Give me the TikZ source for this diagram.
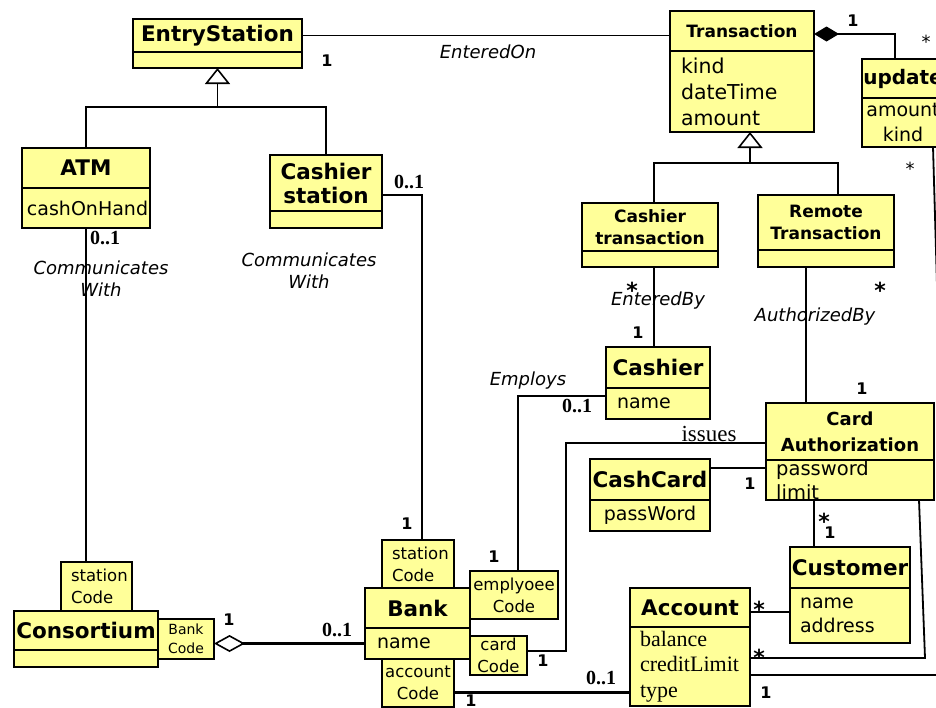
\documentclass[tikz,border=0pt]{standalone}
\usepackage{fontspec}
\setmainfont{DejaVu Sans}
\newfontfamily\timesfont{Liberation Serif}
\usetikzlibrary{arrows.meta,calc,positioning}
\definecolor{umlyellow}{RGB}{255,255,153}
\newcommand{\clsfont}{\fontsize{21.5}{24}\selectfont\bfseries}
\newcommand{\subclsfont}{\fontsize{17}{22}\selectfont\bfseries}
\newcommand{\attrfont}{\fontsize{19}{24.5}\selectfont}
\newcommand{\qualfont}{\fontsize{16.5}{22}\selectfont}
\newcommand{\rolefont}{\fontsize{18}{22}\selectfont\itshape}
\newcommand{\multfont}{\fontsize{16}{16}\selectfont\bfseries}
\newcommand{\rangefont}{\timesfont\bfseries\fontsize{20}{20}\selectfont}
\tikzset{
  cname/.style={draw=black,fill=umlyellow,line width=2pt,inner sep=0pt,
    outer sep=0pt,anchor=north west,align=center,font=\clsfont},
  cattr/.style={draw=black,fill=umlyellow,line width=2pt,inner xsep=10pt,
    inner ysep=0pt,outer sep=0pt,anchor=north west,align=left,font=\attrfont},
  qualbox/.style={draw=black,fill=umlyellow,line width=2pt,inner sep=0pt,
    outer sep=0pt,anchor=north west,align=center,font=\qualfont},
  link/.style={line width=1.8pt},
  heavylink/.style={line width=3pt},
  gen/.style={link,-{Triangle[open,length=16pt,width=25pt,line width=1.6pt]}},
  mult/.style={font=\multfont,inner sep=0pt},
  rangelbl/.style={font=\rangefont,inner sep=0pt},
  starmark/.style={font=\fontsize{22}{22}\selectfont\bfseries,inner sep=0pt},
  thinstar/.style={font=\fontsize{18}{18}\selectfont,inner sep=0pt},
  role/.style={font=\rolefont,align=center,inner sep=0pt}
}

\begin{document}
\begin{tikzpicture}[x=1pt,y=-1pt]
  \useasboundingbox (0,0) rectangle (936,707);
  \clip (0,0) rectangle (936,707);
  \fill[white] (0,0) rectangle (936,707);

  % classes
  \node[cname,minimum width=169pt,minimum height=33pt] (entry) at (133,19) {EntryStation};
  \node[cname,minimum width=169pt,minimum height=16pt] (entry-a) at (entry.south west) {};
  \node[cname,minimum width=128pt,minimum height=40pt] (atm) at (22,148) {ATM};
  \node[cattr,inner xsep=5pt,text width=118pt,minimum height=40pt] (atm-a) at (atm.south west) {cashOnHand};
  \node[cname,minimum width=112pt,minimum height=56pt] (cstation) at (270,155) {Cashier\\station};
  \node[cname,minimum width=112pt,minimum height=17pt] (cstation-a) at (cstation.south west) {};

  \node[cname,font=\subclsfont,minimum width=144pt,minimum height=40pt] (trans) at (670,11) {Transaction};
  \node[cattr,font=\fontsize{20.5}{26}\selectfont,inner xsep=11pt,text width=122pt,minimum height=81pt]
    (trans-a) at (trans.south west) {kind\\dateTime\\amount};
  \node[cname,font=\fontsize{20}{24}\selectfont\bfseries,minimum width=82pt,minimum height=39pt] (update) at (862,59) {update};
  \node[cname,font=\attrfont,minimum width=82pt,minimum height=49pt] (update-a) at (update.south west) {amount\\kind};
  \node[cname,font=\subclsfont,minimum width=136pt,minimum height=48pt] (ctrans) at (582,203) {Cashier\\transaction};
  \node[cname,minimum width=136pt,minimum height=16pt] (ctrans-a) at (ctrans.south west) {};
  \node[cname,font=\subclsfont,minimum width=136pt,minimum height=55pt] (rtrans) at (758,195) {Remote\\Transaction};
  \node[cname,minimum width=136pt,minimum height=17pt] (rtrans-a) at (rtrans.south west) {};

  \node[cname,minimum width=104pt,minimum height=41pt] (cashier) at (606,347) {Cashier};
  \node[cattr,inner xsep=11pt,text width=82pt,minimum height=31pt] (cashier-a) at (cashier.south west) {name};
  \node[cname,font=\fontsize{18}{26}\selectfont\bfseries,minimum width=168pt,minimum height=57pt] (cardauth) at (766,403) {Card\\Authorization};
  \node[cname,minimum width=168pt,minimum height=40pt] (cardauth-a) at (cardauth.south west) {};
  \node[font=\fontsize{19.5}{24}\selectfont,align=left,inner sep=0pt,anchor=west] (cardauth-t) at (776,480) {password\\limit};
  \node[cname,minimum width=120pt,minimum height=41pt] (cashcard) at (590,459) {CashCard};
  \node[cname,font=\attrfont,minimum width=120pt,minimum height=31pt] (cashcard-a) at (cashcard.south west) {passWord};
  \node[cname,minimum width=120pt,minimum height=41pt] (customer) at (790,547) {Customer};
  \node[cattr,text width=100pt,minimum height=55pt] (customer-a) at (customer.south west) {name\\address};
  \node[cname,minimum width=120pt,minimum height=39pt] (account) at (630,588) {Account};
  \node[cattr,font=\timesfont\fontsize{22}{25.5}\selectfont,text width=100pt,minimum height=79pt]
    (account-a) at (account.south west) {balance\\creditLimit\\type};
  \node[cname,minimum width=105pt,minimum height=40pt] (bank) at (365,588) {Bank};
  \node[cattr,inner xsep=12pt,text width=81pt,minimum height=31pt] (bank-a) at (bank.south west) {name};
  \node[cname,minimum width=144pt,minimum height=39pt] (consortium) at (14,611) {Consortium};
  \node[cname,minimum width=144pt,minimum height=17pt] (consortium-a) at (consortium.south west) {};

  % qualifiers
  \node[qualbox,align=left,inner xsep=10pt,text width=52pt,minimum height=48pt] (bstcode) at (382,540) {station\\Code};
  \node[qualbox,minimum width=88pt,minimum height=48pt] (empcode) at (470,571) {emplyoee\\Code};
  \node[qualbox,minimum width=57pt,minimum height=39pt] (cardcode) at (470,636) {card\\Code};
  \node[qualbox,minimum width=72pt,minimum height=48pt] (acccode) at (382,659) {account\\Code};
  \node[qualbox,align=left,inner xsep=10pt,text width=51pt,minimum height=49pt] (cstcode) at (61,562) {station\\Code};
  \node[qualbox,font=\fontsize{14}{19}\selectfont,minimum width=56pt,minimum height=40pt] (bankcode) at (158,619) {Bank\\Code};

  % generalizations
  \coordinate (esjoin) at ([yshift=-39pt]entry-a.south);
  \draw[link] (cstation.north) |- (esjoin);
  \draw[gen] (atm.north) |- (esjoin) -- (entry-a.south);
  \coordinate (trjoin) at ([xshift=8pt,yshift=-31pt]trans-a.south);
  \draw[link] ([xshift=12pt]rtrans.north) |- (trjoin);
  \draw[gen] ([xshift=4pt]ctrans.north) |- (trjoin) -- (trjoin |- trans-a.south);

  % associations
  \draw[link] (entry.east) -- (entry.east -| trans.west);
  \draw[link] (atm-a.south) -- (atm-a.south |- cstcode.north);
  \draw[link] ([yshift=-12pt]cstation.east) -| ([xshift=4pt]bstcode.north);
  \draw[link,{Diamond[length=25pt,width=15pt]}-] ([yshift=-3pt]trans.east) -| ([xshift=-8pt]update.north);
  \coordinate (updout) at (938,320);
  \draw[link] ([xshift=30pt]update-a.south) -- (updout);
  \draw[link] ([xshift=4pt]ctrans-a.south) -- ([xshift=4pt]ctrans-a.south |- cashier.north);
  \draw[link] ([xshift=-20pt]rtrans-a.south) -- ([xshift=-20pt]rtrans-a.south |- cardauth.north);
  \draw[link] ([yshift=7.5pt]cashier-a.west) -| ([xshift=4pt]empcode.north);
  \coordinate (issbend) at (566,651);
  \draw[link] ([yshift=-11.5pt]cardauth.west) -| (issbend) -- (issbend -| cardcode.east);
  \draw[link] ([yshift=11.5pt]cashcard.east) -- ([yshift=11.5pt]cashcard.east -| cardauth-a.west);
  \draw[link] ([xshift=-36pt]cardauth-a.south) -- ([xshift=-36pt]cardauth-a.south |- customer.north);
  \coordinate (cabend) at (925,658);
  \draw[link] ([xshift=69pt]cardauth-a.south) -- (cabend) -- (cabend -| account-a.east);
  \draw[link] ([yshift=-4.5pt]account.east) -- ([yshift=-4.5pt]account.east -| customer-a.west);
  \coordinate (accout) at (950,675);
  \draw[link] (accout -| account-a.east) -- (accout);
  \draw[heavylink] ([yshift=-9pt]acccode.east) -- ([yshift=-9pt]acccode.east -| account-a.west);
  \draw[heavylink,{Diamond[open,length=31pt,width=17pt,line width=1.6pt]}-]
    (bankcode.east |- bank-a.west) -- (bank-a.west);

  % association names and multiplicities
  \node[mult] (m-entry) at (327,61) {1};
  \node[role] (r-enteredon) at (488,52) {EnteredOn};
  \node[rangelbl] (m-atm) at (105,238) {0..1};
  \node[role] (r-atmcomm) at (101,279) {Communicates\\With};
  \node[rangelbl] (m-cstation) at (409,182) {0..1};
  \node[role] (r-cstcomm) at (309,271) {Communicates\\With};
  \node[mult] (m-trans) at (853,21) {1};
  \node[thinstar] (m-updtop) at (926,42) {*};
  \node[thinstar] (m-updbot) at (910,169) {*};
  \node[starmark] (m-ctrans) at (632,290) {*};
  \node[role] (r-enteredby) at (658,301) {EnteredBy};
  \node[mult] (m-cashier) at (638,333) {1};
  \node[starmark] (m-rtrans) at (880,290) {*};
  \node[role] (r-authorized) at (815,317) {AuthorizedBy};
  \node[mult] (m-cardtop) at (862,389) {1};
  \node[role] (r-employs) at (528,381) {Employs};
  \node[rangelbl] (m-employs) at (577,406) {0..1};
  \node[font=\timesfont\fontsize{23}{23}\selectfont,inner sep=0pt] (r-issues) at (709,434) {issues};
  \node[mult] (m-cashcard) at (750,484) {1};
  \node[starmark] (m-cardcust) at (824,521) {*};
  \node[mult] (m-custtop) at (830,533) {1};
  \node[mult] (m-empcode) at (494,557) {1};
  \node[mult] (m-bstcode) at (407,524) {1};
  \node[starmark] (m-acccust) at (759,609) {*};
  \node[starmark] (m-acccard) at (759,657) {*};
  \node[mult] (m-cardcode) at (543,661) {1};
  \node[rangelbl] (m-bankacc) at (601,678) {0..1};
  \node[mult] (m-acccode) at (471,701) {1};
  \node[mult] (m-accright) at (766,693) {1};
  \node[mult] (m-consort) at (229,620) {1};
  \node[rangelbl] (m-consbank) at (337,630) {0..1};
\end{tikzpicture}
\end{document}
